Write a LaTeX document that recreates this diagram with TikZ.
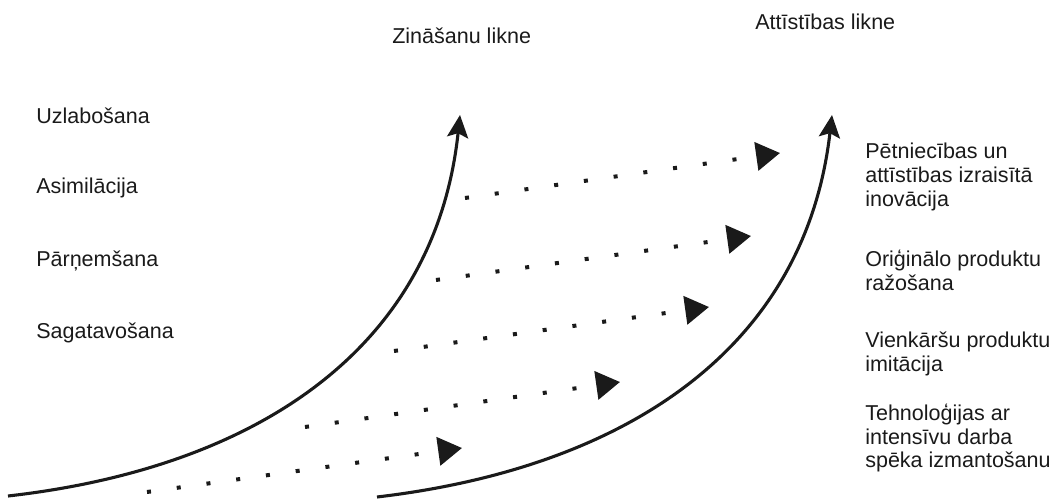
\documentclass[tikz,border=0pt]{standalone}
\usepackage{fontspec}
\setmainfont{Liberation Sans}
\usepackage{xcolor}
\usepackage{tikz}
\usetikzlibrary{arrows.meta,positioning,calc}
\definecolor{likneblack}{HTML}{1A1A1A}

\begin{document}
\begin{tikzpicture}[
    x=0.025cm,y=0.025cm,
    lbl/.style  = {inner sep=0pt,anchor=west,align=left,text=likneblack,
                   font=\fontsize{15.3}{17}\selectfont},
    crv/.style  = {-{Stealth[length=16pt,width=15pt,inset=3pt]},likneblack,line width=2.2pt},
    dt/.style   = {-{Triangle[length=17pt,width=20pt]},likneblack,line width=2.85pt,
                   dash pattern=on 2.85pt off 18.5pt},
  ]

  \useasboundingbox (0,0) rectangle (1058,500);

  \coordinate (k0) at (8,4);
  \coordinate (k1) at (460,385);
  \coordinate (a0) at (377,3);
  \coordinate (a1) at (832,385);

  \draw[crv] (k0) .. controls (255,32) and (435,150) .. (k1);
  \draw[crv] (a0) .. controls (624,32) and (805,150) .. (a1);

  \coordinate (s1) at (147,8);   \coordinate (e1) at (462,52);
  \coordinate (s2) at (305,73);  \coordinate (e2) at (620,118);
  \coordinate (s3) at (394,149); \coordinate (e3) at (709,193);
  \coordinate (s4) at (436,220); \coordinate (e4) at (751,264);
  \coordinate (s5) at (465,302); \coordinate (e5) at (780,347);

  \foreach \i in {1,...,5}
    \draw[dt] (s\i) -- (e\i);

  \node[lbl] (zin) at (392,464) {Zināšanu likne};
  \node[lbl] (att) at (755,478) {Attīstības likne};

  \node[lbl] (uzl) at (36,384) {Uzlabošana};
  \node[lbl] (asi) at (36,312) {Asimilācija};
  \node[lbl] (par) at (36,239) {Pārņemšana};
  \node[lbl] (sag) at (36,167) {Sagatavošana};

  \node[lbl] (pet) at (865,323) {Pētniecības un\\attīstības izraisītā\\inovācija};
  \node[lbl] (ori) at (865,230) {Oriģinālo produktu\\ražošana};
  \node[lbl] (vie) at (865,146) {Vienkāršu produktu\\imitācija};
  \node[lbl] (teh) at (865,62)  {Tehnoloģijas ar\\intensīvu darba\\spēka izmantošanu};

\end{tikzpicture}
\end{document}
